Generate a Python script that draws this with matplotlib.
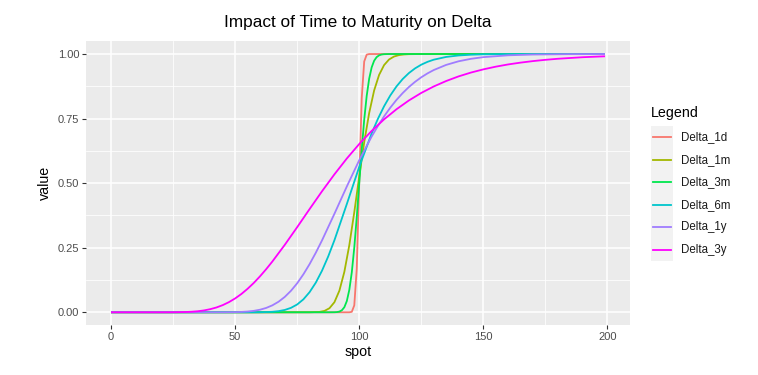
import matplotlib.pyplot as plt
from matplotlib.lines import Line2D
from matplotlib.patches import Rectangle

plt.rcParams['font.family'] = ['Liberation Sans', 'DejaVu Sans']

# values
labels = ['Delta_1d', 'Delta_1m', 'Delta_3m', 'Delta_6m', 'Delta_1y', 'Delta_3y']
colors = ['#F8766D', '#A3B800', '#00E64D', '#00C5CC', '#A07CFF', '#FF00FF']

spot_1d = [0, 96, 97, 98, 99, 100, 101, 102, 103, 104, 199]
delta_1d = [0.0, 0.0, 0.0018, 0.0268, 0.1685, 0.504, 0.829, 0.971, 0.9976, 0.9999, 1.0]

spot_1m = [0, 80, 84, 86, 88, 90, 92, 94, 96, 98, 100, 102, 104, 106, 108, 110,
           112, 114, 116, 118, 120, 125, 199]
delta_1m = [0.0, 0.0001, 0.0015, 0.0054, 0.0157, 0.039, 0.0836, 0.1565, 0.260,
            0.3874, 0.526, 0.6584, 0.7716, 0.8589, 0.9192, 0.957, 0.9788, 0.9902,
            0.9958, 0.9983, 0.9994, 1.0, 1.0]

spot_3m = [0, 88, 90, 91, 92, 93, 94, 95, 96, 97, 98, 99, 100, 101, 102, 103, 104,
           105, 106, 107, 108, 109, 110, 112, 199]
delta_3m = [0.0, 0.0, 0.0002, 0.0008, 0.0027, 0.0078, 0.0196, 0.0436, 0.0869,
            0.1546, 0.2505, 0.3688, 0.5, 0.630, 0.7454, 0.8377, 0.9044, 0.9481,
            0.974, 0.9879, 0.9949, 0.998, 0.9993, 1.0, 1.0]

spot_6m = [0, 55, 60, 62.5, 65, 67.5, 70, 72.5, 75, 77.5, 80, 82.5, 85, 87.5, 90,
           95, 100, 105, 107.5, 110, 112.5, 115, 117.5, 120, 122.5, 125, 127.5,
           130, 135, 140, 145, 150, 160, 199]
delta_6m = [0.0, 0.0, 0.0003, 0.0008, 0.0019, 0.0044, 0.0090, 0.0172, 0.0303,
            0.0501, 0.078, 0.1148, 0.161, 0.2162, 0.2789, 0.4192, 0.5632, 0.6929,
            0.7486, 0.7976, 0.8394, 0.8745, 0.9032, 0.9262, 0.9445, 0.9588,
            0.9697, 0.978, 0.9887, 0.9944, 0.9973, 0.9988, 0.9997, 1.0]

spot_1y = [0, 40, 45, 50, 52.5, 55, 57.5, 60, 62.5, 65, 67.5, 70, 72.5, 75, 77.5,
           80, 82.5, 85, 90, 95, 100, 105, 107.5, 110, 112.5, 115, 117.5, 120,
           122.5, 125, 127.5, 130, 135, 140, 145, 150, 160, 170, 185, 199]
delta_1y = [0.0, 0.0, 0.0001, 0.0006, 0.0014, 0.0029, 0.0055, 0.0099, 0.0168,
            0.0269, 0.0409, 0.0595, 0.0833, 0.1124, 0.147, 0.1865, 0.2306,
            0.2783, 0.3813, 0.4872, 0.589, 0.6805, 0.7212, 0.7585, 0.7922,
            0.8223, 0.8488, 0.8722, 0.8924, 0.910, 0.925, 0.9379, 0.9578,
            0.9718, 0.9814, 0.9879, 0.995, 0.998, 0.9995, 0.9999]

spot_3y = [0, 10, 20, 25, 30, 32.5, 35, 37.5, 40, 42.5, 45, 47.5, 50, 52.5, 55,
           57.5, 60, 62.5, 65, 70, 75, 80, 85, 90, 95, 100, 105, 110, 115, 120,
           125, 130, 135, 140, 145, 150, 155, 160, 165, 170, 175, 180, 190, 199]
delta_3y = [0.0, 0.0, 0.0, 0.00015, 0.0010, 0.00215, 0.0041, 0.0073, 0.0121,
            0.0187, 0.0277, 0.0393, 0.0536, 0.0707, 0.0908, 0.1135, 0.139,
            0.1668, 0.1966, 0.2611, 0.3296, 0.3997, 0.4685, 0.5341, 0.5955,
            0.6516, 0.7022, 0.747, 0.7861, 0.8202, 0.8494, 0.8743, 0.8954,
            0.9133, 0.9282, 0.9406, 0.951, 0.9597, 0.9667, 0.9726, 0.9775,
            0.9816, 0.9876, 0.9912]

series = [(spot_1d, delta_1d), (spot_1m, delta_1m), (spot_3m, delta_3m),
          (spot_6m, delta_6m), (spot_1y, delta_1y), (spot_3y, delta_3y)]

W, H = 758, 375
fig = plt.figure(figsize=(W / 100, H / 100), dpi=100)
fig.patch.set_facecolor('white')

def fx(px):
    return px / W

def fy(py):
    return 1 - py / H

ax = fig.add_axes([fx(86.3), fy(325.2), fx(629.7) - fx(86.3), fy(41.1) - fy(325.2)])
ax.set_facecolor('#EBEBEB')
for s in ax.spines.values():
    s.set_visible(False)

for (x, y), c in zip(series, colors):
    ax.plot(x, y, color=c, lw=1.3, solid_capstyle='butt', solid_joinstyle='round',
            zorder=3)

ax.set_xlim(-9.95, 208.95)
ax.set_ylim(-0.05, 1.05)
ax.set_xticks([0, 50, 100, 150, 200])
ax.set_xticks([25, 75, 125, 175], minor=True)
ax.set_yticks([0, 0.25, 0.5, 0.75, 1.0])
ax.set_yticklabels(['0.00', '0.25', '0.50', '0.75', '1.00'])
ax.set_yticks([0.125, 0.375, 0.625, 0.875], minor=True)
ax.grid(which='major', color='white', lw=1.1, zorder=0)
ax.grid(which='minor', color='white', lw=0.55, zorder=0)
ax.set_axisbelow(True)
ax.tick_params(which='major', length=3, width=0.8, color='#333333',
               labelcolor='#4D4D4D', labelsize=8, pad=2)
ax.tick_params(which='minor', length=0)

ax.set_xlabel('spot', fontsize=10.3, color='black', labelpad=2)
ax.set_ylabel('value', fontsize=10.3, color='black', labelpad=4)
ax.set_title('Impact of Time to Maturity on Delta', fontsize=12.4, pad=10)

# legend
fig.text(fx(651), fy(112.7), 'Legend', fontsize=10.3, va='center', ha='left')
fig.patches.append(Rectangle((fx(651), fy(261)), fx(673.3) - fx(651), fy(126) - fy(261),
                             transform=fig.transFigure, facecolor='#F2F2F2',
                             edgecolor='none'))
for i, (lab, c) in enumerate(zip(labels, colors)):
    yc = 137.25 + 22.5 * i
    fig.lines.append(Line2D([fx(653.3), fx(671)], [fy(yc), fy(yc)],
                            transform=fig.transFigure, color=c, lw=1.3))
    fig.text(fx(681), fy(yc), lab, fontsize=8.3, va='center', ha='left',
             color='#1A1A1A')

fig.savefig('out.png', dpi=100)
